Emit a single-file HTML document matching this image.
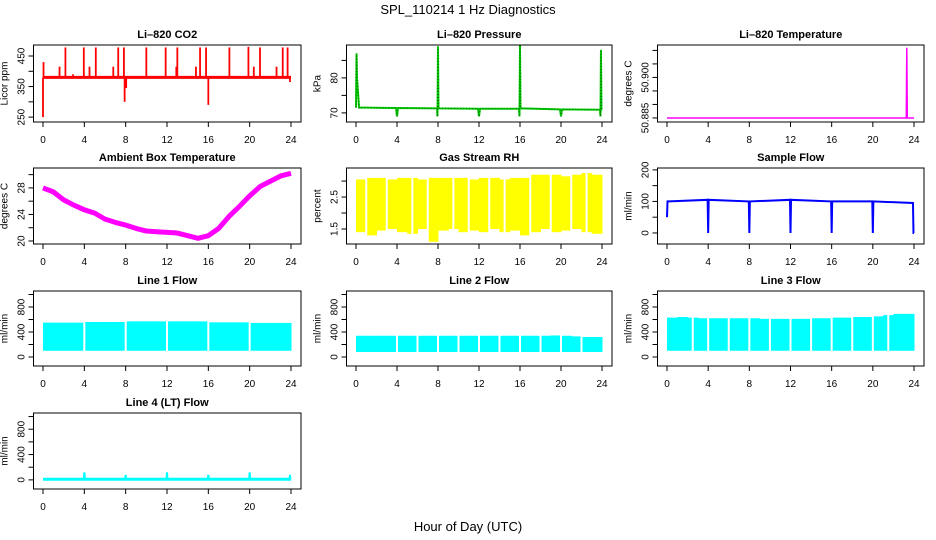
<!DOCTYPE html>
<html><head><meta charset="utf-8"><style>
html,body{margin:0;padding:0;background:#fff;width:936px;height:540px;overflow:hidden}
svg{display:block;font-family:"Liberation Sans",sans-serif;overflow:hidden}
</style></head><body>
<svg id="c" width="936" height="540" viewBox="0 0 936 540">
<text x="468" y="14" text-anchor="middle" font-size="13">SPL_110214  1 Hz Diagnostics</text>
<text x="468" y="531" text-anchor="middle" font-size="13">Hour of Day (UTC)</text>
</svg>
<script>
// ---- data ----
const xTicks = [0,4,8,12,16,20,24];
const co2Base = 380;
const co2SpikeHours = [0,0.05,1.6,2.17,2.9,3.95,4.5,5.11,6.8,7.28,7.83,7.9,8.05,10.0,11.87,12.9,13.0,14.8,15.2,15.78,16.0,18.04,19.88,20.4,21.0,22.6,23.2,23.67,23.9];
const co2SpikeValues = [250,430,415,478,390,478,415,478,415,478,478,300,345,478,478,415,478,415,478,478,290,478,480,415,478,415,478,478,365];
const pressHours = [0,0.05,0.1,0.3,1,3.9,4,4.1,7.9,7.95,8,8.05,8.1,11.9,12,12.1,15.9,15.95,16,16.05,16.1,19.9,20,20.1,23.8,23.85,23.9,23.95,24];
const pressValues = [71.5,87,80,71.5,71.5,71.4,69,71.4,71.3,69,89,71.3,71.3,71.2,69,71.2,71.2,69,89.5,71.6,71.3,71.0,69,71.0,70.9,69,88,70.9,70.9];
const tempHours = [0,23.25,23.3,23.35,24];
const tempValues = [50.885,50.885,50.911,50.885,50.885];
const ambHours = [0,1,2,3,4,5,6,7,8,9,10,11,12,13,14,15,16,17,18,19,20,21,22,23,24];
const ambValues = [28,27.4,26.2,25.4,24.7,24.2,23.3,22.8,22.4,21.9,21.5,21.4,21.3,21.2,20.8,20.4,20.8,21.9,23.7,25.2,26.8,28.2,29.0,29.8,30.2];
const rhHigh = [3.05,3.1,3.1,3.05,3.1,3.1,3.05,3.1,3.1,3.1,3.1,3.05,3.1,3.1,3.05,3.1,3.1,3.2,3.2,3.2,3.15,3.2,3.25,3.2];
const rhLow = [1.4,1.3,1.45,1.5,1.4,1.35,1.5,1.1,1.45,1.5,1.4,1.45,1.4,1.5,1.4,1.45,1.3,1.4,1.5,1.4,1.45,1.5,1.4,1.35];
const sampleHours = [0,0.05,0.2,3.95,4,4.05,7.95,8,8.05,11.95,12,12.05,15.95,16,16.05,19.95,20,20.05,23.9,23.95,24];
const sampleValues = [50,100,100,105,0,105,100,0,100,105,0,105,100,0,100,100,0,100,95,0,0];
const line1High = [550,550,550,550,560,560,560,560,570,570,570,570,570,570,570,570,555,555,555,555,545,545,545,545];
const line1Low = [100,100,100,100,100,100,100,100,100,100,100,100,100,100,100,100,100,100,100,100,100,100,100,100];
const line1Gaps = [4,8,12,16,20];
const line2High = [340,340,340,340,340,340,340,340,340,340,340,340,340,340,340,340,340,340,340,345,340,330,320,320];
const line2Low = [80,80,80,80,80,80,80,80,80,80,80,80,80,80,80,80,80,80,80,80,80,80,80,80];
const line2Gaps = [4,6,8,10,12,14,16,18,20,22];
const line3High = [630,640,630,620,620,620,620,620,620,610,610,610,610,610,620,620,630,630,640,640,650,670,690,690];
const line3Low = [100,100,100,100,100,100,100,100,100,100,100,100,100,100,100,100,100,100,100,100,100,100,100,100];
const line3Gaps = [2.5,4,6,8,10,12,14,16,18,20,21.5];
const line4Hours = [3.95,4,4.05,7.95,8,8.05,11.95,12,12.05,15.95,16,16.05,19.95,20,20.05,23.85,23.9,23.95];
const line4Values = [10,120,10,10,80,10,10,120,10,10,80,10,10,120,10,10,80,10];
const line4Base = 10;

// ---- layout ----
const NS='http://www.w3.org/2000/svg';
const svg=document.getElementById('c');
const colX0=[43,356,667], colX24=[291,602,914];
const rowTop=[45,168,291,413], rowBot=[122,244,366,489];
function mk(tag,attrs,parent){const e=document.createElementNS(NS,tag);for(const k in attrs)e.setAttribute(k,attrs[k]);(parent||svg).appendChild(e);return e;}

function panel(id,col,row,title,ylab,ymin,ymax,ticks,labels){
  const g=mk('g',{});
  
  
  const L=colX0[col]-9.5,R=colX24[col]+10,T=rowTop[row],B=rowBot[row];
  const sx=h=>colX0[col]+h*(colX24[col]-colX0[col])/24;
  const sy=v=>B-(v-ymin)/(ymax-ymin)*(B-T);
  const clip=mk('clipPath',{id:'cl'+id},g);mk('rect',{x:L,y:T,width:R-L,height:B-T},clip);
  const plot=mk('g',{'clip-path':'url(#cl'+id+')'},g);
  
  
  const box=mk('rect',{x:L,y:T,width:R-L,height:B-T,fill:'none',stroke:'#000','stroke-width':1},g);
  
  
  const t=mk('text',{x:(L+R)/2,y:T-7,'text-anchor':'middle','font-size':11,'font-weight':'bold'},g);
  t.textContent=title;
  
  
  mk('line',{x1:sx(0),x2:sx(24),y1:B,y2:B,stroke:'#000'},g);
  xTicks.forEach(h=>{
    mk('line',{x1:sx(h),x2:sx(h),y1:B,y2:B+5,stroke:'#000'},g);
    const tl=mk('text',{x:sx(h),y:B+21,'text-anchor':'middle','font-size':10},g);
    tl.textContent=h;
    
    
  });
  mk('line',{x1:L,x2:L,y1:sy(ticks[0]),y2:sy(ticks[ticks.length-1]),stroke:'#000'},g);
  ticks.forEach(v=>mk('line',{x1:L,x2:L-5,y1:sy(v),y2:sy(v),stroke:'#000'},g));
  labels.forEach(v=>{
    const x=L-9,y=sy(v);
    const tl=mk('text',{x:x,y:y,'text-anchor':'middle','font-size':10,transform:`rotate(-90 ${x} ${y})`},g);
    tl.textContent=v;
    
    
  });
  const yx=L-26,yy=(T+B)/2;
  const yt=mk('text',{x:yx,y:yy,'text-anchor':'middle','font-size':10,transform:`rotate(-90 ${yx} ${yy})`},g);
  yt.textContent=ylab;
  
  
  return {plot,sx,sy,T,B};
}
function line(p,hs,vs,color,w,name,extra){
  const pl=mk('polyline',Object.assign({points:hs.map((h,i)=>p.sx(h)+','+Math.max(p.T-2,Math.min(p.B+2,p.sy(vs[i])))).join(' '),fill:'none',stroke:color,'stroke-width':w},extra||{}),p.plot);
  
  
}
function band(p,hi,lo,gaps,color,name){
  const n=hi.length;
  hi.forEach((v,i)=>{
    const h0=i*24/n,h1=(i+1)*24/n;
    const r=mk('rect',{x:p.sx(h0),y:p.sy(v),width:p.sx(h1)-p.sx(h0)+0.5,height:p.sy(lo[i])-p.sy(v),fill:color},p.plot);
    
    
  });
  gaps.forEach(h=>{
    const gl=mk('line',{x1:p.sx(h),x2:p.sx(h),y1:p.T+1,y2:p.B-1,stroke:'#fff','stroke-width':2},p.plot);
    
    
  });
}

let p=panel('co2',0,0,'Li\u2013820 CO2','Licor ppm',234,486,[250,300,350,400,450],[250,350,450]);
line(p,[0,24],[co2Base,co2Base],'#f00',3,'co2-baseline');
co2SpikeHours.forEach((h,i)=>{
  const s=mk('line',{x1:p.sx(h),x2:p.sx(h),y1:p.sy(co2Base),y2:p.sy(co2SpikeValues[i]),stroke:'#f00','stroke-width':1.8},p.plot);
  
  
});
p=panel('pressure',1,0,'Li\u2013820 Pressure','kPa',67.4,89.4,[70,75,80,85],[70,80]);
line(p,pressHours,pressValues,'#0c0',2,'pressure-line');
line(p,pressHours,pressValues,'#060',1,'pressure-line-dots',{'stroke-dasharray':'1 2'});
p=panel('temperature',2,0,'Li\u2013820 Temperature','degrees C',50.8835,50.912,[50.885,50.89,50.895,50.9,50.905,50.91],['50.885','50.900']);
line(p,tempHours,tempValues,'#f0f',1.5,'temperature-line');
p=panel('ambient',0,1,'Ambient Box Temperature','degrees C',19.55,31.0,[20,22,24,26,28,30],[20,24,28]);
line(p,ambHours,ambValues,'#f0f',5,'ambient-line',{'stroke-linejoin':'round'});
p=panel('rh',1,1,'Gas Stream RH','percent',1.03,3.41,[1.5,2,2.5,3],['1.5','2.5']);
band(p,rhHigh,rhLow,[1,3,5.5,7,9.5,11,13,14.5,17,19,21,22.5],'#ff0','rh-band');
p=panel('sample',2,1,'Sample Flow','ml/min',-35,206,[0,50,100,150,200],[0,100,200]);
line(p,sampleHours,sampleValues,'#00f',2,'sample-flow-line');
const ft=[0,200,400,600,800,1000], fl=[0,400,800];
p=panel('line1',0,2,'Line 1 Flow','ml/min',-144,1056,ft,fl);
band(p,line1High,line1Low,line1Gaps,'#0ff','line1-band');
p=panel('line2',1,2,'Line 2 Flow','ml/min',-144,1056,ft,fl);
band(p,line2High,line2Low,line2Gaps,'#0ff','line2-band');
p=panel('line3',2,2,'Line 3 Flow','ml/min',-144,1056,ft,fl);
band(p,line3High,line3Low,line3Gaps,'#0ff','line3-band');
p=panel('line4',0,3,'Line 4 (LT) Flow','ml/min',-144,1056,ft,fl);
line(p,[0,24],[line4Base,line4Base],'#0ff',3,'line4-baseline');
line(p,line4Hours,line4Values,'#0ff',2,'line4-spikes');
</script>
</body></html>
